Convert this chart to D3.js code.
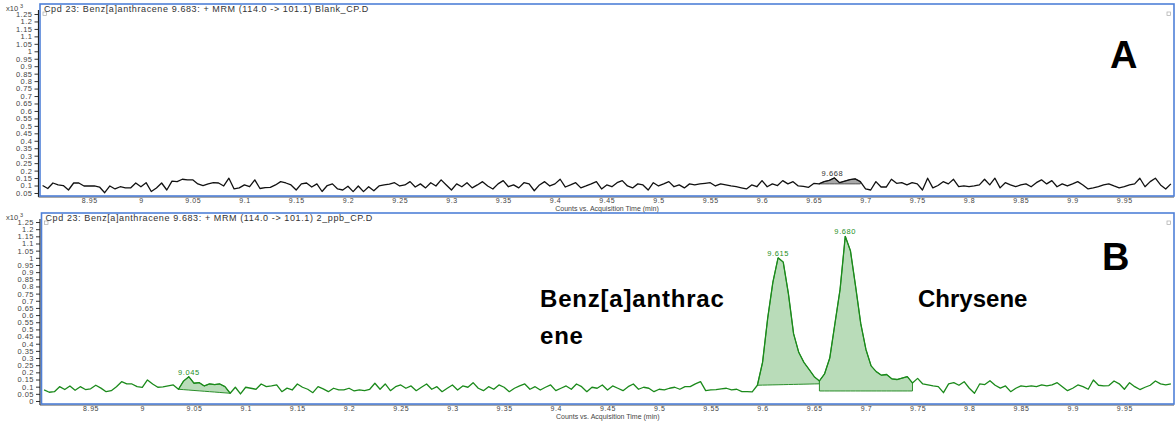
<!DOCTYPE html>
<html>
<head>
<meta charset="utf-8">
<script src="https://cdn.jsdelivr.net/npm/d3@7"></script>
<style>
  body { margin: 0; background: #fff; }
  svg { display: block; font-family: "Liberation Sans", Arial, sans-serif; }
</style>
</head>
<body>
<svg id="chart" width="1176" height="421"></svg>
<script>
// scans are evenly spaced, one every 0.005 min
const scanStart = 8.905;
const scanStep = 0.005;

const xTickLabels = ["8.95", "9", "9.05", "9.1", "9.15", "9.2", "9.25", "9.3", "9.35", "9.4", "9.45",
  "9.5", "9.55", "9.6", "9.65", "9.7", "9.75", "9.8", "9.85", "9.9", "9.95"];
const yTickLabelsA = ["0.05", "0.1", "0.15", "0.2", "0.25", "0.3", "0.35", "0.4", "0.45", "0.5", "0.55", "0.6",
  "0.65", "0.7", "0.75", "0.8", "0.85", "0.9", "0.95", "1", "1.05", "1.1", "1.15", "1.2", "1.25"];
const yTickLabelsB = ["0"].concat(yTickLabelsA);

// counts x10^3, blank injection
const blankCounts = [
  0.10, 0.08, 0.117, 0.104, 0.10, 0.07, 0.117, 0.117, 0.097, 0.097,
  0.097, 0.09, 0.052, 0.097, 0.077, 0.092, 0.084, 0.084, 0.117, 0.092,
  0.119, 0.06, 0.084, 0.117, 0.07, 0.13, 0.126, 0.142, 0.138, 0.138,
  0.111, 0.10, 0.111, 0.119, 0.117, 0.097, 0.149, 0.077, 0.084, 0.104,
  0.092, 0.138, 0.08, 0.086, 0.088, 0.104, 0.126, 0.117, 0.104, 0.07,
  0.111, 0.117, 0.09, 0.111, 0.06, 0.10, 0.111, 0.077, 0.07, 0.095,
  0.059, 0.097, 0.059, 0.092, 0.065, 0.097, 0.104, 0.109, 0.119, 0.097,
  0.104, 0.126, 0.09, 0.111, 0.084, 0.119, 0.097, 0.138, 0.104, 0.07,
  0.111, 0.092, 0.119, 0.084, 0.104, 0.126, 0.097, 0.077, 0.111, 0.133,
  0.092, 0.104, 0.084, 0.119, 0.111, 0.065, 0.104, 0.126, 0.097, 0.111,
  0.142, 0.09, 0.104, 0.119, 0.084, 0.097, 0.111, 0.126, 0.077, 0.104,
  0.092, 0.119, 0.133, 0.097, 0.084, 0.111, 0.104, 0.07, 0.119, 0.097,
  0.111, 0.126, 0.092, 0.104, 0.084, 0.111, 0.104,
  0.111, 0.115, 0.119, 0.097, 0.111, 0.104, 0.097, 0.092, 0.085, 0.077,
  0.104, 0.092, 0.133, 0.092, 0.111, 0.10, 0.133, 0.111, 0.126, 0.097,
  0.094, 0.088, 0.114, 0.111, 0.126, 0.135, 0.151, 0.119, 0.13, 0.14,
  0.145, 0.126, 0.077, 0.07, 0.126, 0.09, 0.09, 0.142, 0.115, 0.119,
  0.104, 0.119, 0.111, 0.07, 0.149, 0.084, 0.10, 0.126, 0.111, 0.142,
  0.092, 0.097, 0.092, 0.097, 0.104, 0.142, 0.104, 0.149, 0.084, 0.119,
  0.104, 0.092, 0.104, 0.111, 0.092, 0.119, 0.138, 0.111, 0.133, 0.092,
  0.111, 0.097, 0.111, 0.126, 0.104, 0.077, 0.084, 0.092, 0.104, 0.111,
  0.097, 0.084, 0.092, 0.104, 0.111, 0.149, 0.092, 0.126, 0.149, 0.104,
  0.077, 0.111
];

// counts x10^3, 2 ppb standard
const sampleCounts = [
  0.077, 0.061, 0.065, 0.10, 0.08, 0.105, 0.075, 0.10, 0.08, 0.085,
  0.11, 0.09, 0.065, 0.072, 0.10, 0.135, 0.12, 0.119, 0.10, 0.095,
  0.147, 0.119, 0.096, 0.098, 0.105, 0.112, 0.082, 0.14, 0.17, 0.124,
  0.128, 0.105, 0.119, 0.115, 0.119, 0.10, 0.054, 0.096, 0.049, 0.096,
  0.089, 0.082, 0.119, 0.10, 0.105, 0.112, 0.065, 0.09, 0.077, 0.119,
  0.096, 0.082, 0.058, 0.10, 0.085, 0.065, 0.089, 0.077, 0.077, 0.089,
  0.07, 0.077, 0.072, 0.082, 0.124, 0.082, 0.119, 0.072, 0.10, 0.112,
  0.089, 0.105, 0.072, 0.096, 0.119, 0.082, 0.10, 0.065, 0.089, 0.112,
  0.077, 0.105, 0.096, 0.128, 0.089, 0.072, 0.10, 0.082, 0.112, 0.096,
  0.065, 0.089, 0.105, 0.119, 0.082, 0.10, 0.077, 0.096, 0.112, 0.072,
  0.089, 0.105, 0.082, 0.119, 0.10, 0.065, 0.096, 0.089, 0.112, 0.077,
  0.105, 0.089, 0.072, 0.10, 0.119, 0.082, 0.096, 0.089, 0.065, 0.082,
  0.077, 0.089, 0.096, 0.082, 0.10,
  0.10, 0.12, 0.135, 0.072, 0.077, 0.08, 0.085, 0.089, 0.077, 0.082,
  0.065, 0.065, 0.063, 0.11, 0.27, 0.58, 0.83, 1.0, 0.97, 0.75,
  0.47, 0.34, 0.27, 0.22, 0.17, 0.14, 0.19, 0.30, 0.54, 0.78,
  1.15, 1.05, 0.80, 0.54, 0.36, 0.245, 0.205, 0.18, 0.185, 0.155,
  0.15, 0.16, 0.17, 0.126, 0.158, 0.119, 0.112, 0.105, 0.10, 0.058,
  0.119, 0.128, 0.11, 0.135, 0.089, 0.054, 0.119, 0.115, 0.142, 0.11,
  0.09, 0.105, 0.065, 0.089, 0.105, 0.10, 0.105, 0.10, 0.112, 0.105,
  0.112, 0.128, 0.10, 0.072, 0.089, 0.112, 0.10, 0.082, 0.147, 0.11,
  0.105, 0.108, 0.14, 0.12, 0.082, 0.128, 0.10, 0.08, 0.096, 0.11,
  0.14, 0.12, 0.112, 0.119
];

// integrated peaks: retention time label, integration window, baseline ends
const blankPeaks = [
  { label: "9.668", start: 9.655, end: 9.695, baseStart: 0.111, baseEnd: 0.111 }
];
const samplePeaks = [
  { label: "9.045", start: 9.035, end: 9.085, baseStart: 0.082, baseEnd: 0.054 },
  { label: "9.615", start: 9.595, end: 9.655, baseStart: 0.11, baseEnd: 0.12 },
  { label: "9.680", start: 9.655, end: 9.745, baseStart: 0.07, baseEnd: 0.07 }
];

const svg = d3.select("#chart");
svg.append("rect").attr("width", 1176).attr("height", 421).attr("fill", "#fff");

function drawPanel(p) {
  const times = p.counts.map((d, i) => scanStart + i * scanStep);
  const x = d3.scaleLinear().domain([8.9025, 9.998]).range([p.left, p.right]);
  const y = d3.scaleLinear().domain(p.yDomain).range([p.bottom, p.top]);
  const g = svg.append("g");

  g.append("clipPath").attr("id", "clip" + p.id)
    .append("rect")
    .attr("x", p.left).attr("y", p.top)
    .attr("width", p.right - p.left).attr("height", p.bottom - p.top);

  const plot = g.append("g").attr("clip-path", "url(#clip" + p.id + ")");

  // shaded integration areas
  p.peaks.forEach(pk => {
    const pts = p.counts
      .map((v, i) => ({ t: times[i], v: v }))
      .filter(d => d.t >= pk.start - 1e-9 && d.t <= pk.end + 1e-9);
    const base = t => pk.baseStart + (pk.baseEnd - pk.baseStart) * (t - pk.start) / (pk.end - pk.start);
    const area = d3.area()
      .x(d => x(d.t))
      .y0(d => y(base(d.t)))
      .y1(d => y(d.v));
    plot.append("path")
      .datum(pts)
      .attr("d", area)
      .attr("fill", p.fill)
      .attr("stroke", p.fillStroke)
      .attr("stroke-width", 1);
    const top = d3.max(pts, d => d.v);
    g.append("text")
      .attr("x", x(+pk.label))
      .attr("y", y(top) - 2)
      .attr("text-anchor", "middle")
      .attr("font-size", "7.5px")
      .attr("letter-spacing", "0.6px")
      .attr("fill", p.labelColor)
      .text(pk.label);
  });

  // chromatogram trace
  plot.append("path")
    .datum(p.counts)
    .attr("d", d3.line().x((d, i) => x(times[i])).y(d => y(d)))
    .attr("fill", "none")
    .attr("stroke", p.lineColor)
    .attr("stroke-width", 1.3)
    .attr("stroke-linejoin", "round");

  // y axis
  const yAxis = g.append("g")
    .attr("transform", "translate(" + (p.left - 1.5) + ",0)")
    .call(d3.axisLeft(y)
      .tickValues(p.yTicks.map(Number))
      .tickFormat((d, i) => p.yTicks[i])
      .tickSize(4)
      .tickPadding(2));
  yAxis.select(".domain").remove();
  yAxis.selectAll("line").attr("stroke", "#333");
  yAxis.selectAll("text").attr("font-size", "7.5px").attr("fill", "#444")
    .attr("font-family", "\"Liberation Sans\", Arial, sans-serif").attr("letter-spacing", "0.5px");

  // x axis
  const xAxis = g.append("g")
    .attr("transform", "translate(0," + (p.bottom + 1) + ")")
    .call(d3.axisBottom(x)
      .tickValues(xTickLabels.map(Number))
      .tickFormat((d, i) => xTickLabels[i])
      .tickSize(0)
      .tickPadding(1));
  xAxis.select(".domain").remove();
  xAxis.selectAll("text").attr("font-size", "7px").attr("fill", "#444")
    .attr("font-family", "\"Liberation Sans\", Arial, sans-serif").attr("letter-spacing", "0.6px");

  g.append("text")
    .attr("x", (p.left + p.right) / 2)
    .attr("y", p.bottom + 15)
    .attr("text-anchor", "middle")
    .attr("font-size", "7px")
    .attr("fill", "#444")
    .text("Counts vs. Acquisition Time (min)");

  // dark axis lines + blue frame
  g.append("line")
    .attr("x1", p.left - 1.5).attr("x2", p.left - 1.5)
    .attr("y1", p.top + 6).attr("y2", p.bottom + 1)
    .attr("stroke", "#222").attr("stroke-width", 1.2);
  g.append("line")
    .attr("x1", p.left - 1.5).attr("x2", p.right)
    .attr("y1", p.bottom + 1).attr("y2", p.bottom + 1)
    .attr("stroke", "#555").attr("stroke-width", 1);
  g.append("rect")
    .attr("x", p.left).attr("y", p.top)
    .attr("width", p.right - p.left).attr("height", p.bottom - p.top)
    .attr("fill", "none")
    .attr("stroke", "#4f80d8")
    .attr("stroke-width", 1.6);

  // little marker boxes in the corners
  [p.left + 3, p.right - 7].forEach(mx => {
    g.append("rect")
      .attr("x", mx).attr("y", p.top + 8)
      .attr("width", 3.5).attr("height", 3.5)
      .attr("fill", "none").attr("stroke", "#aaa").attr("stroke-width", 0.7);
  });

  g.append("text")
    .attr("x", p.left + 4)
    .attr("y", p.top + 8)
    .attr("font-size", "9px")
    .attr("letter-spacing", "0.6px")
    .attr("fill", "#333")
    .text(p.header);

  const mult = g.append("text")
    .attr("x", 6)
    .attr("y", p.top + 7)
    .attr("font-size", "7.5px")
    .attr("fill", "#444")
    .text("x10");
  mult.append("tspan").attr("dx", 2).attr("dy", -3).attr("font-size", "5.5px").text("3");
}

drawPanel({
  id: "A", counts: blankCounts, peaks: blankPeaks,
  left: 40, right: 1174, top: 4, bottom: 196,
  yDomain: [0.0298, 1.317], yTicks: yTickLabelsA,
  lineColor: "#111", fill: "#a8a8a8", fillStroke: "#555", labelColor: "#333",
  header: "Cpd 23: Benz[a]anthracene 9.683: + MRM (114.0 -> 101.1) Blank_CP.D"
});

drawPanel({
  id: "B", counts: sampleCounts, peaks: samplePeaks,
  left: 41.5, right: 1174, top: 213, bottom: 404,
  yDomain: [-0.021, 1.313], yTicks: yTickLabelsB,
  lineColor: "#1b8a1b", fill: "#b9dcb9", fillStroke: "#2b8f2b", labelColor: "#1f8f1f",
  header: "Cpd 23: Benz[a]anthracene 9.683: + MRM (114.0 -> 101.1) 2_ppb_CP.D"
});

// panel letters and compound names
const bigText = (x, y, size, str, spacing) => svg.append("text")
  .attr("x", x).attr("y", y)
  .attr("font-size", size + "px")
  .attr("font-weight", "bold")
  .attr("letter-spacing", (spacing || 0) + "px")
  .attr("fill", "#000")
  .text(str);

bigText(1110, 68, 38, "A");
bigText(1102, 270, 38, "B");
bigText(540, 307, 24, "Benz[a]anthrac", 0.8);
bigText(540, 344, 24, "ene", 0.8);
bigText(918, 307, 24, "Chrysene");
</script>
</body>
</html>
